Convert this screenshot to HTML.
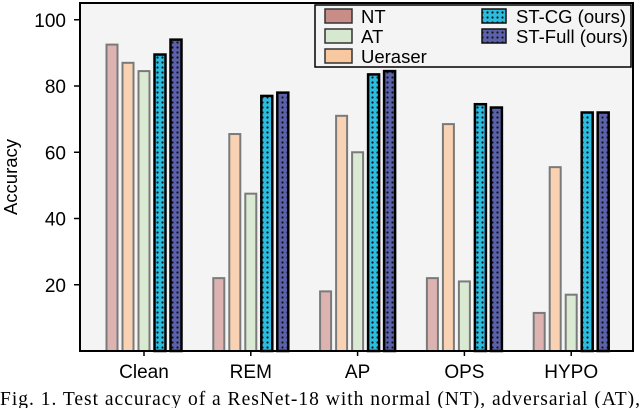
<!DOCTYPE html>
<html><head><meta charset="utf-8"><style>
body{margin:0;background:#fff;width:640px;height:408px;overflow:hidden}
svg text{font-family:"Liberation Sans",sans-serif}
</style></head><body>
<svg id="chart" width="640" height="408">
<defs>
<pattern id="dotsB" width="5" height="5" patternUnits="userSpaceOnUse"><rect width="5" height="5" fill="#2bbde0"/><circle cx="2.5" cy="2.5" r="1.1" fill="#111"/></pattern>
<pattern id="dotsP" width="5" height="5" patternUnits="userSpaceOnUse"><rect width="5" height="5" fill="#5b61aa"/><circle cx="2.5" cy="2.5" r="1.1" fill="#111"/></pattern>
</defs>
<rect x="80" y="3" width="553" height="348" fill="#f4f4f4"/>
<g id="bars"></g>
<rect x="80" y="3" width="553" height="348" fill="none" stroke="#000" stroke-width="2"/>
<g id="axes"></g>
<text transform="translate(17,177) rotate(-90)" text-anchor="middle" font-size="18.5">Accuracy</text>
<g>
<rect x="315" y="5" width="316" height="62" fill="#f4f4f4" stroke="#000" stroke-width="1.5"/>
<rect x="325" y="9" width="27" height="14" fill="#c98d88" stroke="#333" stroke-width="1.5"/>
<text x="361" y="23" font-size="18.5">NT</text>
<rect x="325" y="29" width="27" height="14" fill="#d6e8cf" stroke="#333" stroke-width="1.5"/>
<text x="361" y="43" font-size="18.5">AT</text>
<rect x="325" y="49" width="27" height="14" fill="#f8c9a0" stroke="#333" stroke-width="1.5"/>
<text x="361" y="63" font-size="18.5">Ueraser</text>
<rect x="482" y="9" width="24" height="14" fill="url(#dotsB)" stroke="#111" stroke-width="1.5"/>
<text x="516" y="23" font-size="18.5">ST-CG (ours)</text>
<rect x="482" y="29" width="24" height="14" fill="url(#dotsP)" stroke="#111" stroke-width="1.5"/>
<text x="516" y="43" font-size="18.5">ST-Full (ours)</text>
</g>
<text x="0" y="405" font-size="19.5" textLength="640" lengthAdjust="spacing" style="font-family:'Liberation Serif',serif">Fig. 1.  Test accuracy of a ResNet-18 with normal (NT), adversarial (AT),</text>
</svg>
<script>
const categories=["Clean","REM","AP","OPS","HYPO"];
const ntValues=[92.5,22,18,22,11.5];
const ueraserValues=[87,65.5,71,68.5,55.5];
const atValues=[84.5,47.5,60,21,17];
const stcgValues=[89.5,77,83.5,74.5,72];
const stfullValues=[94,78,84.5,73.5,72];
const yTicks=[20,40,60,80,100];
const NS="http://www.w3.org/2000/svg";
const y=v=>351-v*(66.25/20);
const xc=i=>144+i*106.8;
const series=[
 {vals:ntValues,fill:"#dcb3b0",stroke:"#7a7a7a",name:"nt",w:2},
 {vals:ueraserValues,fill:"#f9d2b3",stroke:"#7a7a7a",name:"ueraser",w:2},
 {vals:atValues,fill:"#d9e9d2",stroke:"#7a7a7a",name:"at",w:2},
 {vals:stcgValues,fill:"url(#dotsB)",stroke:"#000",name:"st-cg",w:2.5},
 {vals:stfullValues,fill:"url(#dotsP)",stroke:"#000",name:"st-full",w:2.5}];
const bars=document.getElementById("bars");
series.forEach((s,j)=>{s.vals.forEach((v,i)=>{
 const r=document.createElementNS(NS,"rect");
 const cx=xc(i)+(j-2)*16;
 r.setAttribute("x",cx-5.5);r.setAttribute("width",11);
 r.setAttribute("y",y(v));r.setAttribute("height",351-y(v));
 r.setAttribute("fill",s.fill);r.setAttribute("stroke",s.stroke);r.setAttribute("stroke-width",s.w);
 
 
 bars.appendChild(r);});});
const ax=document.getElementById("axes");
yTicks.forEach(t=>{
 const l=document.createElementNS(NS,"line");
 l.setAttribute("x1",74);l.setAttribute("x2",80);l.setAttribute("y1",y(t));l.setAttribute("y2",y(t));l.setAttribute("stroke","#000");l.setAttribute("stroke-width",1.5);
 
 
 ax.appendChild(l);
 const tx=document.createElementNS(NS,"text");
 tx.setAttribute("x",66);tx.setAttribute("y",y(t)+7);tx.setAttribute("text-anchor","end");tx.setAttribute("font-size",19);tx.textContent=t;
 
 
 ax.appendChild(tx);});
categories.forEach((c,i)=>{
 const l=document.createElementNS(NS,"line");
 l.setAttribute("x1",xc(i));l.setAttribute("x2",xc(i));l.setAttribute("y1",351);l.setAttribute("y2",356);l.setAttribute("stroke","#000");l.setAttribute("stroke-width",1.5);
 
 
 ax.appendChild(l);
 const tx=document.createElementNS(NS,"text");
 tx.setAttribute("x",xc(i));tx.setAttribute("y",378);tx.setAttribute("text-anchor","middle");tx.setAttribute("font-size",19);tx.textContent=c;
 
 
 ax.appendChild(tx);});
</script>
</body></html>
